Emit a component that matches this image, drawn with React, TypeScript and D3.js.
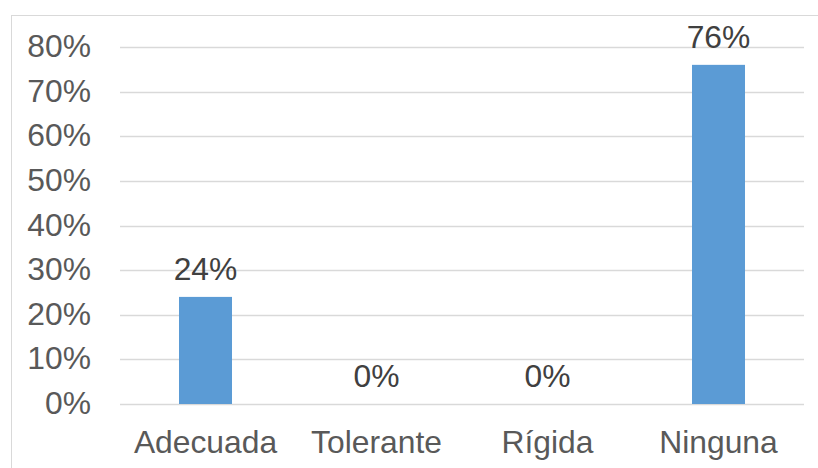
import React from "react";
import * as d3 from "d3";

const categories = ["Adecuada", "Tolerante", "Rígida", "Ninguna"];
const values = [0.24, 0, 0, 0.76];
const yTicks = [0, 0.1, 0.2, 0.3, 0.4, 0.5, 0.6, 0.7, 0.8];

const W = 818;
const H = 468;
const plot = { left: 120, right: 804, top: 47, bottom: 404 };
const FONT = "'Liberation Sans', Arial, sans-serif";
const FS = 31.8;

export default function App() {
  const x = d3
    .scaleBand<string>()
    .domain(categories)
    .range([plot.left, plot.right])
    .paddingInner(0.69)
    .paddingOuter(0.345);
  const y = d3.scaleLinear().domain([0, 0.8]).range([plot.bottom, plot.top]);
  const fmt = d3.format(".0%");

  return (
    <div style={{ position: "fixed", left: 0, top: 0 }}>
      <svg width={W} height={H} style={{ display: "block" }}>
        <rect x={0} y={0} width={W} height={H} fill="#ffffff" />
        <rect
          x={11.5}
          y={15.5}
          width={W + 20}
          height={H + 20}
          fill="#ffffff"
          stroke="#d9d9d9"
          strokeWidth={1}
        />
        {yTicks.map((t) => (
          <g key={t}>
            <line
              x1={plot.left}
              x2={plot.right}
              y1={Math.round(y(t)) + 0.5}
              y2={Math.round(y(t)) + 0.5}
              stroke="#d9d9d9"
              strokeWidth={1.3}
            />
            <text
              x={91}
              y={y(t) + 10}
              textAnchor="end"
              fontFamily={FONT}
              fontSize={FS}
              fill="#595959"
            >
              {fmt(t)}
            </text>
          </g>
        ))}
        {categories.map((c, i) => (
          <g key={c}>
            <rect
              x={x(c)}
              y={y(values[i])}
              width={x.bandwidth()}
              height={y(0) - y(values[i])}
              fill="#5b9bd5"
            />
            <text
              x={(x(c) as number) + x.bandwidth() / 2}
              y={y(values[i]) - 17}
              textAnchor="middle"
              fontFamily={FONT}
              fontSize={FS}
              fill="#404040"
            >
              {fmt(values[i])}
            </text>
            <text
              x={(x(c) as number) + x.bandwidth() / 2}
              y={453}
              textAnchor="middle"
              fontFamily={FONT}
              fontSize={FS}
              fill="#595959"
            >
              {c}
            </text>
          </g>
        ))}
      </svg>
    </div>
  );
}
